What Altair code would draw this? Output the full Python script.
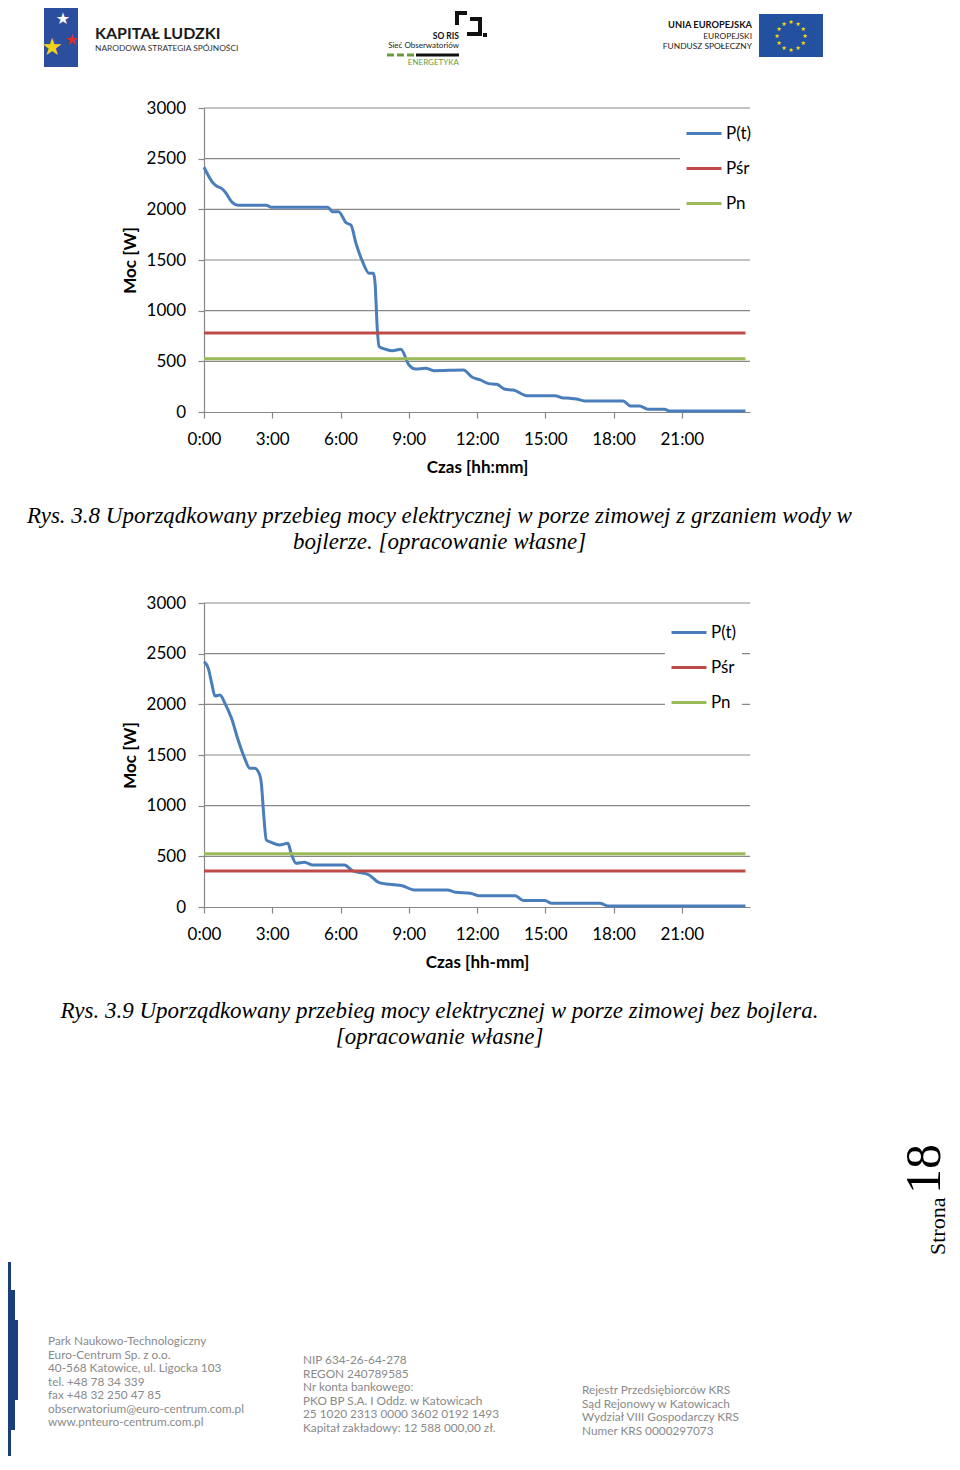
import math
import altair as alt
import pandas as pd

# ---------------- data ----------------
series_names = ["P(t)", "Pśr", "Pn"]
series_colors = ["#4a7ebb", "#be4b48", "#9bbb59"]

hours_1 = [0, 0.41, 0.55, 0.77, 0.92, 1.24, 1.5, 2.74, 2.96, 5.44, 5.66, 5.92, 6.24, 6.46,
           6.68, 6.97, 7.26, 7.45, 7.52, 7.62, 7.7, 7.99, 8.28, 8.65, 9.01, 9.3, 9.74, 10.1,
           11.4, 11.78, 12.15, 12.51, 12.87, 13.24, 13.6, 14.19, 15.43, 15.72, 16.08, 16.37,
           16.74, 18.42, 18.75, 19.15, 19.51, 20.24, 20.46, 23.8]
power_1 = [2415, 2257, 2230, 2207, 2174, 2069, 2040, 2040, 2020, 2020, 1977, 1977, 1868, 1845,
           1665, 1483, 1369, 1369, 1270, 809, 645, 619, 605, 619, 464, 424, 431, 408,
           414, 345, 316, 280, 273, 224, 217, 161, 161, 141, 135, 128,
           109, 109, 59, 59, 27, 27, 10, 10]
p_sr_1 = 780
p_n_1 = 525

hours_2 = [0, 0.19, 0.34, 0.48, 0.7, 0.92, 1.21, 1.5, 1.79, 2.01, 2.23, 2.45, 2.52, 2.62,
           2.74, 2.96, 3.32, 3.69, 3.83, 4.05, 4.42, 4.78, 6.17, 6.53, 7.26, 7.7, 8.14, 8.72,
           9.23, 10.69, 11.05, 11.71, 12.07, 13.68, 14.04, 14.99, 15.28, 17.4, 17.76, 23.8]
power_2 = [2421, 2355, 2207, 2082, 2092, 2010, 1862, 1648, 1467, 1369, 1369, 1303, 1221, 925,
           661, 638, 612, 628, 530, 431, 441, 414, 414, 358, 316, 240, 224, 210,
           168, 168, 145, 135, 112, 112, 63, 63, 36, 36, 10, 10]
p_sr_2 = 355
p_n_2 = 525

y_ticks = [0, 500, 1000, 1500, 2000, 2500, 3000]
x_ticks = [0, 3, 6, 9, 12, 15, 18, 21]
x_domain = [0, 24]
y_domain = [0, 3000]

y_title = "Moc [W]"
x_title_1 = "Czas [hh:mm]"
x_title_2 = "Czas [hh-mm]"
caption_1 = ["Rys. 3.8 Uporządkowany przebieg mocy elektrycznej w porze zimowej z grzaniem wody w",
             "bojlerze. [opracowanie własne]"]
caption_2 = ["Rys. 3.9 Uporządkowany przebieg mocy elektrycznej w porze zimowej bez bojlera.",
             "[opracowanie własne]"]

hdr_kl = ["KAPITAŁ LUDZKI", "NARODOWA STRATEGIA SPÓJNOŚCI"]
hdr_soris = ["SO RIS", "Sieć Obserwatoriów", "ENERGETYKA"]
hdr_eu = ["UNIA EUROPEJSKA", "EUROPEJSKI", "FUNDUSZ SPOŁECZNY"]
page_word = "Strona"
page_num = "18"
footer_1 = ["Park Naukowo-Technologiczny", "Euro-Centrum Sp. z o.o.", "40-568 Katowice, ul. Ligocka 103",
            "tel. +48 78 34 339", "fax +48 32 250 47 85", "obserwatorium@euro-centrum.com.pl",
            "www.pnteuro-centrum.com.pl"]
footer_2 = ["NIP 634-26-64-278", "REGON 240789585", "Nr konta bankowego:", "PKO BP S.A. I Oddz. w Katowicach",
            "25 1020 2313 0000 3602 0192 1493", "Kapitał zakładowy: 12 588 000,00 zł."]
footer_3 = ["Rejestr Przedsiębiorców KRS", "Sąd Rejonowy w Katowicach", "Wydział VIII Gospodarczy KRS",
            "Numer KRS 0000297073"]
STAR = "★"

# ---------------- layout ----------------
W, H = 944, 1448
M = 8
FONT = "Lato"
GRID = "#888888"


def cx(v):
    return v - M


def cy(v):
    return v - M


def one():
    return alt.Data(values=[{"k": 1}])


def panel(hours, power, psr, pn, top_px, x_title, leg_x, leg_y):
    y_bottom = cy(top_px + 304)
    y_top = cy(top_px)

    def xs():
        return alt.Scale(domain=x_domain, range=[cx(204), cx(750)], nice=False, zero=False)

    def ys():
        return alt.Scale(domain=y_domain, range=[y_bottom, y_top], nice=False, zero=False)

    end = hours[-1]
    df = pd.concat([
        pd.DataFrame({"h": hours, "v": power, "s": series_names[0]}),
        pd.DataFrame({"h": [0, end], "v": [psr, psr], "s": series_names[1]}),
        pd.DataFrame({"h": [0, end], "v": [pn, pn], "s": series_names[2]}),
    ], ignore_index=True)
    grid = pd.DataFrame({"g": y_ticks[1:], "a": x_domain[0], "b": x_domain[1]})
    grid_layer = alt.Chart(grid).mark_rule(color=GRID, strokeWidth=1.2).encode(
        x=alt.X("a:Q", scale=xs(), axis=None),
        x2="b:Q",
        y=alt.Y("g:Q", scale=ys(), axis=None),
    )
    line_layer = alt.Chart(df).mark_line(strokeWidth=3, interpolate="monotone").encode(
        x=alt.X("h:Q", scale=xs(),
                axis=alt.Axis(values=x_ticks, labelExpr="datum.value + ':00'", title=x_title,
                              orient="bottom", offset=y_bottom - H, labelFlush=False,
                              labelPadding=13.5, titlePadding=11.5, grid=False)),
        y=alt.Y("v:Q", scale=ys(),
                axis=alt.Axis(values=y_ticks, format="d", title=y_title, orient="left",
                              offset=-cx(204), labelPadding=12.5, titlePadding=7, grid=False)),
        color=alt.Color("s:N", scale=alt.Scale(domain=series_names, range=series_colors),
                        legend=alt.Legend(orient="none", legendX=leg_x, legendY=leg_y, title=None,
                                          labelFont=FONT, labelFontSize=17, labelColor="#000",
                                          symbolType="stroke", symbolSize=1225, symbolStrokeWidth=3,
                                          labelOffset=3, rowPadding=8, padding=5,
                                          fillColor="white")),
    )
    return [grid_layer, line_layer]


def text_at(text, x, y, size, font=FONT, align="left", baseline="middle", color="#000",
            weight="normal", style="normal", angle=None):
    kw = dict(text=text, fontSize=size, font=font, align=align, baseline=baseline,
              color=color, fontWeight=weight, fontStyle=style)
    if angle is not None:
        kw["angle"] = angle
    return alt.Chart(one()).mark_text(**kw).encode(x=alt.value(cx(x)), y=alt.value(cy(y)))


def rect_at(x1, y1, x2, y2, color):
    return alt.Chart(one()).mark_rect(color=color).encode(
        x=alt.value(cx(x1)), x2=alt.value(cx(x2)), y=alt.value(cy(y1)), y2=alt.value(cy(y2)))


def rule_at(x1, y1, x2, y2, color, width, dash=None):
    kw = dict(color=color, strokeWidth=width)
    if dash:
        kw["strokeDash"] = dash
    return alt.Chart(one()).mark_rule(**kw).encode(
        x=alt.value(cx(x1)), x2=alt.value(cx(x2)), y=alt.value(cy(y1)), y2=alt.value(cy(y2)))


panel_1 = panel(hours_1, power_1, p_sr_1, p_n_1, 108, x_title_1, cx(680), cy(109.5))
panel_2 = panel(hours_2, power_2, p_sr_2, p_n_2, 603, x_title_2, cx(665), cy(608.5))

decor = []
# header: Kapitał Ludzki logo
decor.append(rect_at(44, 4, 78, 67, "#2b4f9e"))
decor.append(text_at(STAR, 63, 19, 16, font="DejaVu Sans", align="center", color="#ffffff"))
decor.append(text_at(STAR, 72, 40, 16, font="DejaVu Sans", align="center", color="#d42e2e"))
decor.append(text_at(STAR, 52, 48, 24, font="DejaVu Sans", align="center", color="#f3d21c"))
decor.append(text_at(hdr_kl[0], 95, 34, 16, weight="bold", color="#1a1a1a"))
decor.append(text_at(hdr_kl[1], 95, 48, 8.4, color="#333333"))
# header: SO RIS logo
for (a, b, c, d) in [(455, 11, 467, 15), (455, 11, 459, 25), (467, 4, 471, 8), (478, 17, 482, 36),
                     (467, 32, 482, 36), (470, 17, 482, 21), (483, 33, 487, 37)]:
    decor.append(rect_at(a, b, c, d, "#111111"))
decor.append(text_at(hdr_soris[0], 459, 36, 8.5, align="right", weight="bold", color="#111"))
decor.append(text_at(hdr_soris[1], 459, 46, 8, align="right", color="#222"))
decor.append(rule_at(387, 55, 415, 55, "#6a9b3a", 3, dash=[7, 3]))
decor.append(rule_at(416, 55, 459, 55, "#111111", 3))
decor.append(text_at(hdr_soris[2], 459, 63, 8, align="right", color="#6a9b3a"))
# header: EU
decor.append(text_at(hdr_eu[0], 752, 25, 9.3, align="right", weight="bold", color="#111"))
decor.append(text_at(hdr_eu[1], 752, 35.5, 8.4, align="right", color="#222"))
decor.append(text_at(hdr_eu[2], 752, 46, 8.4, align="right", color="#222"))
decor.append(rect_at(759, 14, 823, 57, "#23509f"))
for k in range(12):
    ang = math.radians(30 * k)
    decor.append(text_at(STAR, 791 + 14 * math.cos(ang), 36 + 14 * math.sin(ang), 6,
                         font="DejaVu Sans", align="center", color="#ffdd00"))
# captions
CAP_FONT = "Liberation Serif"
decor.append(text_at(caption_1[0], 439.5, 516, 23, font=CAP_FONT, align="center", style="italic"))
decor.append(text_at(caption_1[1], 439.5, 542, 23, font=CAP_FONT, align="center", style="italic"))
decor.append(text_at(caption_2[0], 439.5, 1011, 23, font=CAP_FONT, align="center", style="italic"))
decor.append(text_at(caption_2[1], 439.5, 1037, 23, font=CAP_FONT, align="center", style="italic"))
# page number
decor.append(text_at(page_word, 945, 1255, 22, font=CAP_FONT, align="left",
                     baseline="alphabetic", angle=270))
decor.append(text_at(page_num, 940, 1194, 50, font=CAP_FONT, align="left",
                     baseline="alphabetic", angle=270))
# footer: blue crescent approximated by stacked bands
for (y1, y2, x2) in [(1262, 1290, 11), (1290, 1320, 15), (1320, 1400, 18), (1400, 1430, 15),
                     (1430, 1458, 11)]:
    decor.append(rect_at(8, y1, x2, y2, "#1b3f7c"))
FOOT = "#8a8a8a"
for i, s in enumerate(footer_1):
    decor.append(text_at(s, 48, 1341 + 13.5 * i, 11.8, color=FOOT))
for i, s in enumerate(footer_2):
    decor.append(text_at(s, 303, 1360 + 13.6 * i, 11.8, color=FOOT))
for i, s in enumerate(footer_3):
    decor.append(text_at(s, 582, 1390 + 13.7 * i, 11.8, color=FOOT))

chart = alt.layer(*panel_1, *panel_2, *decor).resolve_scale(
    x="independent", y="independent", color="independent"
).resolve_axis(x="independent", y="independent").resolve_legend(color="independent").properties(
    width=W, height=H, autosize=alt.AutoSizeParams(type="none"), padding=0
).configure_view(stroke=None).configure_axis(
    domainColor=GRID, tickColor=GRID, domainWidth=1.2, tickWidth=1.2, tickSize=6,
    labelFont=FONT, labelFontSize=17, labelColor="#000",
    titleFont=FONT, titleFontSize=17, titleFontWeight="bold", titleColor="#000",
)

chart.save("out.html", embed_options={"renderer": "svg", "actions": False})
